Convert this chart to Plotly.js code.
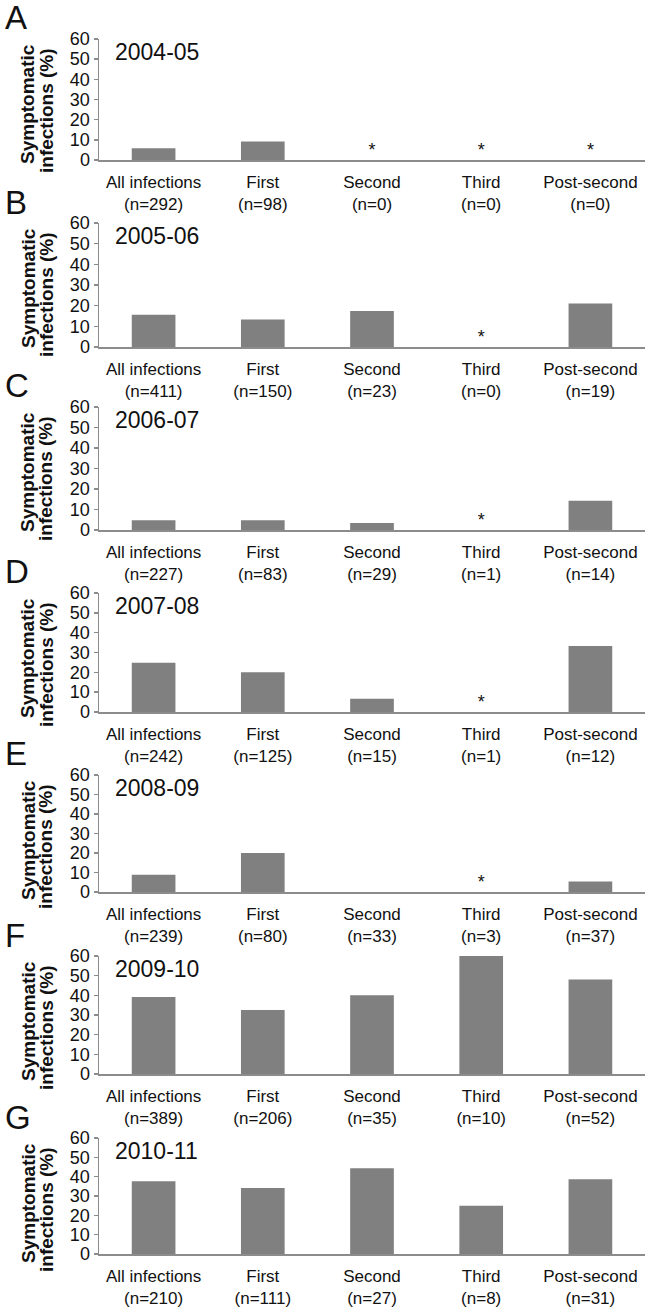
<!DOCTYPE html>
<html>
<head>
<meta charset="utf-8">
<script src="https://cdn.plot.ly/plotly-3.0.1.min.js"></script>
<style>
  html, body { margin: 0; padding: 0; background: #ffffff; }
  #chart { width: 653px; height: 1313px; }
</style>
</head>
<body>
<div id="chart"></div>
<script>
// ---------------- DATA ----------------
const categories = ["All infections", "First", "Second", "Third", "Post-second"];
const seasons = ["2004-05", "2005-06", "2006-07", "2007-08", "2008-09", "2009-10", "2010-11"];
const panelLetters = ["A", "B", "C", "D", "E", "F", "G"];
const yTickValues = [0, 10, 20, 30, 40, 50, 60];
const yTitleLines = ["Symptomatic", "infections (%)"];

// Symptomatic infections (%) by infection order
const pct_2004_05 = [5.8, 9.2, 0, 0, 0];
const pct_2005_06 = [15.6, 13.3, 17.4, 0, 21.1];
const pct_2006_07 = [4.8, 4.8, 3.4, 0, 14.3];
const pct_2007_08 = [24.8, 20.0, 6.7, 0, 33.3];
const pct_2008_09 = [8.8, 20.0, 0, 0, 5.4];
const pct_2009_10 = [39.1, 32.5, 40.0, 60.0, 48.1];
const pct_2010_11 = [37.6, 34.2, 44.4, 25.0, 38.7];

// Number of infections (n)
const n_2004_05 = [292, 98, 0, 0, 0];
const n_2005_06 = [411, 150, 23, 0, 19];
const n_2006_07 = [227, 83, 29, 1, 14];
const n_2007_08 = [242, 125, 15, 1, 12];
const n_2008_09 = [239, 80, 33, 3, 37];
const n_2009_10 = [389, 206, 35, 10, 52];
const n_2010_11 = [210, 111, 27, 8, 31];

// Asterisk markers (1 = "*" shown)
const star_2004_05 = [0, 0, 1, 1, 1];
const star_2005_06 = [0, 0, 0, 1, 0];
const star_2006_07 = [0, 0, 0, 1, 0];
const star_2007_08 = [0, 0, 0, 1, 0];
const star_2008_09 = [0, 0, 0, 1, 0];
const star_2009_10 = [0, 0, 0, 0, 0];
const star_2010_11 = [0, 0, 0, 0, 0];

const pctSets = [pct_2004_05, pct_2005_06, pct_2006_07, pct_2007_08, pct_2008_09, pct_2009_10, pct_2010_11];
const nSets = [n_2004_05, n_2005_06, n_2006_07, n_2007_08, n_2008_09, n_2009_10, n_2010_11];
const starSets = [star_2004_05, star_2005_06, star_2006_07, star_2007_08, star_2008_09, star_2009_10, star_2010_11];

// ---------------- LAYOUT GEOMETRY (pixels) ----------------
const W = 653, H = 1313;
const plotLeft = 99, plotRight = 645;
const panelTopPx = [39, 223, 407, 593, 775, 956, 1138];    // y = 60
const panelBottomPx = [160, 347, 530, 712, 892, 1074, 1254]; // y = 0
const titleLineXPx = [28, 46];
const titleLineDyPx = [65, 72];

const FONT = "Liberation Sans, Arial, Helvetica, sans-serif";
const axisColor = "#8c8c8c";
const barColor = "#808080";
const textColor = "#111111";

const fy = px => 1 - px / H;
const fx = px => px / W;

const traces = [];
const layout = {
  width: W, height: H,
  margin: {l: 0, r: 0, t: 0, b: 0},
  paper_bgcolor: "#ffffff",
  plot_bgcolor: "#ffffff",
  showlegend: false,
  bargap: 0.6,
  font: {family: FONT, color: textColor},
  annotations: []
};

for (let i = 0; i < seasons.length; i++) {
  const k = i === 0 ? "" : String(i + 1);
  const xa = "x" + k, ya = "y" + k;
  const pct = pctSets[i], ns = nSets[i], st = starSets[i];

  traces.push({
    type: "bar",
    x: categories,
    y: pct,
    xaxis: xa, yaxis: ya,
    marker: {color: barColor, line: {width: 0}},
    hoverinfo: "x+y"
  });

  const sx = [], sy = [], stxt = [];
  for (let j = 0; j < categories.length; j++) {
    if (st[j]) { sx.push(categories[j]); sy.push(0); stxt.push("*"); }
  }
  if (sx.length) {
    traces.push({
      type: "scatter", mode: "text",
      x: sx, y: sy, text: stxt,
      textposition: "top center",
      textfont: {family: FONT, size: 18, color: textColor},
      xaxis: xa, yaxis: ya, hoverinfo: "skip", cliponaxis: false
    });
  }

  const ticktext = categories.map((c, j) => c + "<br>(n=" + ns[j] + ")");

  layout["xaxis" + k] = {
    domain: [fx(plotLeft), fx(plotRight)],
    anchor: ya,
    type: "category",
    categoryarray: categories,
    range: [-0.5, 4.5],
    tickvals: categories,
    ticktext: ticktext,
    tickfont: {family: FONT, size: 17, color: textColor},
    ticklabelstandoff: 6,
    showline: true, linecolor: axisColor, linewidth: 1.5,
    ticks: "", showgrid: false, zeroline: false,
    automargin: false, fixedrange: true
  };
  layout["yaxis" + k] = {
    domain: [fy(panelBottomPx[i]), fy(panelTopPx[i])],
    anchor: xa,
    range: [0, 60],
    tickvals: yTickValues,
    tickfont: {family: FONT, size: 18, color: textColor},
    showline: true, linecolor: axisColor, linewidth: 1.5,
    ticks: "outside", ticklen: 4, tickcolor: axisColor, tickwidth: 1.5,
    showgrid: false, zeroline: false,
    automargin: false, fixedrange: true
  };

  // Y-axis title (two rotated lines)
  for (let t = 0; t < yTitleLines.length; t++) {
    layout.annotations.push({
      xref: "paper", yref: "paper",
      x: fx(titleLineXPx[t]), y: fy(panelTopPx[i] + titleLineDyPx[t]),
      xanchor: "center", yanchor: "middle",
      textangle: -90,
      text: "<b>" + yTitleLines[t] + "</b>", showarrow: false,
      font: {family: FONT, size: 19, color: textColor}
    });
  }

  // Season label
  layout.annotations.push({
    xref: "paper", yref: "paper",
    x: fx(113), y: fy(panelTopPx[i] + 13),
    xanchor: "left", yanchor: "middle",
    text: seasons[i], showarrow: false,
    font: {family: FONT, size: 23, color: textColor}
  });
  // Panel letter
  layout.annotations.push({
    xref: "paper", yref: "paper",
    x: fx(3), y: fy(panelTopPx[i] - 21),
    xanchor: "left", yanchor: "middle",
    text: panelLetters[i], showarrow: false,
    font: {family: FONT, size: 33, color: textColor}
  });
}

Plotly.newPlot("chart", traces, layout, {staticPlot: true, displayModeBar: false});
</script>
</body>
</html>
